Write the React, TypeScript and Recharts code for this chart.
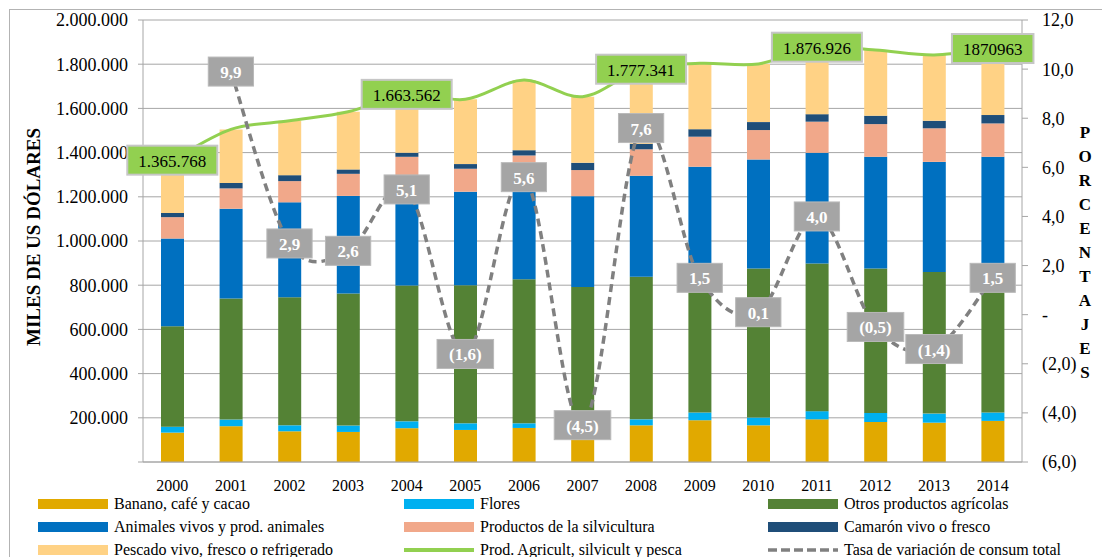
import React from "react";
import { ComposedChart, Bar, Line, XAxis, YAxis, CartesianGrid, LabelList } from "recharts";

const years = ["2000", "2001", "2002", "2003", "2004", "2005", "2006", "2007", "2008", "2009", "2010", "2011", "2012", "2013", "2014"];

// miles de US dólares
const banano = [133000, 162000, 139000, 136000, 153000, 145000, 154000, 145000, 166000, 189000, 166000, 193000, 181000, 178000, 186000];
const flores = [27000, 30000, 27000, 29000, 31000, 30000, 21000, 25000, 27000, 35000, 35000, 37000, 41000, 41000, 38000];
const otros = [454000, 548000, 580000, 598000, 615000, 625000, 652000, 622000, 645000, 606000, 675000, 668000, 654000, 641000, 636000];
const animales = [397000, 406000, 429000, 441000, 481000, 423000, 463000, 411000, 457000, 506000, 493000, 501000, 505000, 498000, 521000];
const silvicultura = [97000, 92000, 96000, 100000, 101000, 104000, 97000, 118000, 120000, 136000, 133000, 141000, 148000, 152000, 151000];
const camaron = [19000, 25000, 27000, 20000, 18000, 21000, 24000, 33000, 25000, 34000, 36000, 34000, 38000, 34000, 38000];
const pescado = [239000, 242000, 246000, 261000, 265000, 293000, 317000, 299000, 337000, 298000, 263000, 303000, 297000, 298000, 301000];
const total = [1365768, 1505000, 1544000, 1585000, 1663562, 1641000, 1728000, 1653000, 1777341, 1804000, 1801000, 1876926, 1864000, 1842000, 1870963];
const totalLabels = ["1.365.768", "", "", "", "1.663.562", "", "", "", "1.777.341", "", "", "1.876.926", "", "", "1870963"];
// porcentajes
const tasa = [null, 9.9, 2.9, 2.6, 5.1, -1.6, 5.6, -4.5, 7.6, 1.5, 0.1, 4.0, -0.5, -1.4, 1.5];

const leftTicks = [0, 200000, 400000, 600000, 800000, 1000000, 1200000, 1400000, 1600000, 1800000, 2000000];
const rightTicks = [-6, -4, -2, 0, 2, 4, 6, 8, 10, 12];
const edgeTicks = [0, 1, 2, 3, 4, 5, 6, 7, 8, 9, 10, 11, 12, 13, 14, 15];

const FONT = '"Liberation Serif", "Times New Roman", serif';
const GRID = "#a6a6a6";

const data = years.map((year, i) => ({
  year,
  banano: banano[i],
  flores: flores[i],
  otros: otros[i],
  animales: animales[i],
  silvicultura: silvicultura[i],
  camaron: camaron[i],
  pescado: pescado[i],
  total: total[i],
  totalLabel: totalLabels[i],
  tasa: tasa[i],
}));

// Excel-like smoothed line (Catmull-Rom through the points)
function smoothCurve(context: any) {
  let pts: number[][] = [];
  return {
    areaStart() {},
    areaEnd() {},
    lineStart() {
      pts = [];
    },
    lineEnd() {
      if (!pts.length) return;
      context.moveTo(pts[0][0], pts[0][1]);
      for (let i = 0; i < pts.length - 1; i++) {
        const p0 = pts[i - 1] || pts[i];
        const p1 = pts[i];
        const p2 = pts[i + 1];
        const p3 = pts[i + 2] || p2;
        context.bezierCurveTo(
          p1[0] + (p2[0] - p0[0]) / 6,
          p1[1] + (p2[1] - p0[1]) / 6,
          p2[0] - (p3[0] - p1[0]) / 6,
          p2[1] - (p3[1] - p1[1]) / 6,
          p2[0],
          p2[1]
        );
      }
    },
    point(x: number, y: number) {
      pts.push([+x, +y]);
    },
  };
}

const fmtMiles = (v: number) => (v === 0 ? "" : String(v).replace(/\B(?=(\d{3})+(?!\d))/g, "."));
const fmtPct = (v: number) => {
  if (v === 0) return "-";
  const s = Math.abs(v).toFixed(1).replace(".", ",");
  return v < 0 ? `(${s})` : s;
};

const textWidth = (s: string, fs: number) =>
  s.split("").reduce((w, c) => w + (/[.,]/.test(c) ? 0.25 : /[()]/.test(c) ? 0.333 : 0.5), 0) * fs;

const pointOf = (props: any) => ({
  x: props.x ?? props.viewBox?.x,
  y: props.y ?? props.viewBox?.y,
});

function GreenLabel(props: any) {
  const { value } = props;
  if (!value) return null;
  const { x, y } = pointOf(props);
  const w = textWidth(String(value), 17) + 22;
  const h = 29;
  return (
    <g>
      <rect x={x - w / 2} y={y - h / 2} width={w} height={h} fill="#92d050" stroke="#c6c6c6" strokeWidth={2} />
      <text x={x} y={y + 1} textAnchor="middle" dominantBaseline="central" fontFamily={FONT} fontSize={17} fill="#000">
        {value}
      </text>
    </g>
  );
}

function GrayLabel(props: any) {
  const { value } = props;
  if (value === null || value === undefined) return null;
  const { x, y } = pointOf(props);
  const txt = value < 0 ? `(${Math.abs(value).toFixed(1).replace(".", ",")})` : Number(value).toFixed(1).replace(".", ",");
  const w = textWidth(txt, 17) + 24;
  const h = 29;
  return (
    <g>
      <rect x={x - w / 2} y={y - h / 2} width={w} height={h} fill="#a5a5a5" stroke="#b9b9b9" strokeWidth={1} />
      <text x={x} y={y + 1} textAnchor="middle" dominantBaseline="central" fontFamily={FONT} fontSize={17} fontWeight="bold" fill="#fff">
        {txt}
      </text>
    </g>
  );
}

const LeftTitle = (props: any) => {
  const vb = props.viewBox || { x: 0, y: 20, width: 143, height: 442 };
  const cx = vb.x + 33;
  const cy = vb.y + vb.height / 2 - 4;
  return (
    <text x={cx} y={cy} transform={`rotate(-90 ${cx} ${cy})`} textAnchor="middle" dominantBaseline="central" fontFamily={FONT} fontSize={19} fontWeight="bold" fill="#000">
      MILES DE US DÓLARES
    </text>
  );
};

const RightTitle = (props: any) => {
  const vb = props.viewBox || { x: 1022, y: 20, width: 80, height: 442 };
  const letters = "PORCENTAJES".split("");
  const cx = vb.x + 63;
  const top = vb.y + vb.height / 2 + 11 - ((letters.length - 1) * 24) / 2;
  return (
    <text textAnchor="middle" dominantBaseline="central" fontFamily={FONT} fontSize={17} fontWeight="bold" fill="#000">
      {letters.map((l, i) => (
        <tspan key={i} x={cx} y={top + i * 24}>
          {l}
        </tspan>
      ))}
    </text>
  );
};

const legendItems = [
  { name: "Banano, café y cacao", color: "#e1a900", kind: "bar" },
  { name: "Flores", color: "#00b0f0", kind: "bar" },
  { name: "Otros productos agrícolas", color: "#548235", kind: "bar" },
  { name: "Animales vivos y prod. animales", color: "#0070c0", kind: "bar" },
  { name: "Productos de la silvicultura", color: "#f1a88a", kind: "bar" },
  { name: "Camarón vivo o fresco", color: "#1f4e79", kind: "bar" },
  { name: "Pescado vivo, fresco o refrigerado", color: "#ffd285", kind: "bar" },
  { name: "Prod. Agricult, silvicult y pesca", color: "#92d050", kind: "line" },
  { name: "Tasa de variación de consum total", color: "#808080", kind: "dash" },
];
const legendCols = [38, 404, 768];
const legendRows = [504, 527, 550];

function LegendBlock() {
  return (
    <>
      {legendItems.map((it, i) => {
        const left = legendCols[i % 3];
        const cy = legendRows[Math.floor(i / 3)];
        return (
          <div key={it.name}>
            {it.kind === "bar" && (
              <div style={{ position: "absolute", left, top: cy - 5, width: 70, height: 10, background: it.color }} />
            )}
            {it.kind === "line" && (
              <div style={{ position: "absolute", left, top: cy - 2, width: 70, height: 4, background: it.color }} />
            )}
            {it.kind === "dash" && (
              <svg style={{ position: "absolute", left, top: cy - 3 }} width={70} height={6}>
                <line x1={0} y1={3} x2={70} y2={3} stroke={it.color} strokeWidth={3.5} strokeDasharray="9 4" />
              </svg>
            )}
            <div
              style={{
                position: "absolute",
                left: left + 76,
                top: cy - 8,
                height: 16,
                lineHeight: "16px",
                fontFamily: FONT,
                fontSize: 16,
                color: "#000",
                whiteSpace: "nowrap",
              }}
            >
              {it.name}
            </div>
          </div>
        );
      })}
    </>
  );
}

export default function App() {
  return (
    <div style={{ position: "absolute", left: 0, top: 0, width: 1102, height: 557, overflow: "hidden", background: "#fff" }}>
      <div
        style={{
          position: "absolute",
          left: 9,
          top: 9,
          width: 1200,
          height: 700,
          borderTop: "1px solid #b3b3b3",
          borderLeft: "1px solid #b3b3b3",
        }}
      />
      <div style={{ position: "absolute", left: 0, top: 0 }}>
        <ComposedChart width={1102} height={500} data={data} margin={{ top: 20, right: 0, bottom: 0, left: 0 }} barSize={23}>
          <CartesianGrid yAxisId="left" xAxisId="cat" vertical={false} stroke={GRID} strokeWidth={1} />
          <XAxis
            xAxisId="edges"
            type="number"
            domain={[0, 15]}
            ticks={edgeTicks}
            allowDataOverflow
            height={0}
            tick={false}
            axisLine={false}
            tickLine={{ stroke: GRID }}
            tickSize={5}
          />
          <XAxis
            xAxisId="cat"
            dataKey="year"
            height={38}
            axisLine={{ stroke: GRID }}
            tickLine={false}
            tickMargin={12}
            interval={0}
            tick={{ fill: "#000", fontSize: 16, fontFamily: FONT }}
          />
          <YAxis
            yAxisId="left"
            width={143}
            domain={[0, 2000000]}
            ticks={leftTicks}
            tickFormatter={fmtMiles}
            axisLine={{ stroke: GRID }}
            tickLine={{ stroke: GRID }}
            tickSize={5}
            tickMargin={10}
            tick={{ fill: "#000", fontSize: 18, fontFamily: FONT }}
            label={LeftTitle}
          />
          <YAxis
            yAxisId="right"
            orientation="right"
            width={80}
            domain={[-6, 12]}
            ticks={rightTicks}
            tickFormatter={fmtPct}
            axisLine={{ stroke: GRID }}
            tickLine={{ stroke: GRID }}
            tickSize={6}
            tickMargin={14}
            tick={{ fill: "#000", fontSize: 18, fontFamily: FONT }}
            label={RightTitle}
          />
          <Bar xAxisId="cat" yAxisId="left" dataKey="banano" stackId="s" fill="#e1a900" isAnimationActive={false} />
          <Bar xAxisId="cat" yAxisId="left" dataKey="flores" stackId="s" fill="#00b0f0" isAnimationActive={false} />
          <Bar xAxisId="cat" yAxisId="left" dataKey="otros" stackId="s" fill="#548235" isAnimationActive={false} />
          <Bar xAxisId="cat" yAxisId="left" dataKey="animales" stackId="s" fill="#0070c0" isAnimationActive={false} />
          <Bar xAxisId="cat" yAxisId="left" dataKey="silvicultura" stackId="s" fill="#f1a88a" isAnimationActive={false} />
          <Bar xAxisId="cat" yAxisId="left" dataKey="camaron" stackId="s" fill="#1f4e79" isAnimationActive={false} />
          <Bar xAxisId="cat" yAxisId="left" dataKey="pescado" stackId="s" fill="#ffd285" isAnimationActive={false} />
          <Line
            xAxisId="cat"
            yAxisId="left"
            dataKey="total"
            type={smoothCurve as any}
            stroke="#92d050"
            strokeWidth={3}
            dot={false}
            activeDot={false}
            isAnimationActive={false}
          >
            <LabelList dataKey="totalLabel" content={GreenLabel} />
          </Line>
          <Line
            xAxisId="cat"
            yAxisId="right"
            dataKey="tasa"
            type={smoothCurve as any}
            stroke="#808080"
            strokeWidth={3.5}
            strokeDasharray="8 5"
            dot={false}
            activeDot={false}
            isAnimationActive={false}
          >
            <LabelList dataKey="tasa" content={GrayLabel} />
          </Line>
        </ComposedChart>
      </div>
      <LegendBlock />
    </div>
  );
}
